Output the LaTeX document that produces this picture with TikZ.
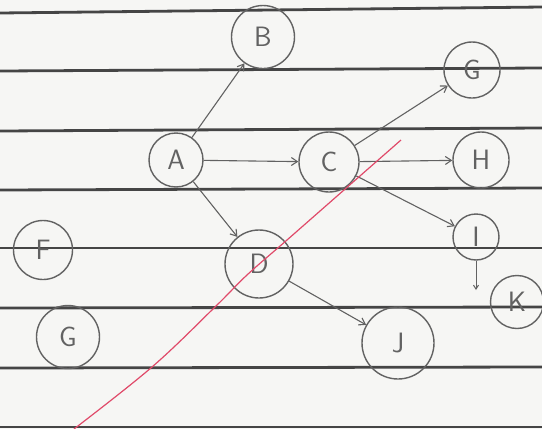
\documentclass[tikz,border=0pt]{standalone}
\usetikzlibrary{arrows.meta}
\definecolor{paper}{HTML}{F6F6F4}
\definecolor{ruled}{HTML}{454545}
\definecolor{ink}{HTML}{626262}
\definecolor{redpen}{HTML}{E04A6A}
\tikzset{
  vtx/.style={circle, draw=ink, line width=1.4pt, inner sep=0pt, text=ink,
    font=\sffamily\fontsize{28}{28}\selectfont},
  edge/.style={draw=ink, line width=1.1pt, -{Straight Barb[length=6pt,width=8pt]}},
  rule/.style={draw=ruled, line width=2.8pt}
}
\begin{document}
\begin{tikzpicture}[x=1pt,y=-1pt]
\fill[paper] (0,0) rectangle (542,429);
\useasboundingbox (0,0) rectangle (542,429);
% ruled lines
\draw[rule] (0,13) -- (542,7);
\draw[rule] (0,71) -- (542,68);
\draw[rule] (0,131) -- (542,128);
\draw[rule] (0,190) -- (542,188);
\draw[rule] (0,248) -- (542,248);
\draw[rule] (0,308) -- (542,307);
\draw[rule] (0,368) -- (542,367);
\draw[rule] (0,427) -- (542,427);
% nodes
\node[vtx, minimum size=63pt] (B) at (263,37) {B};
\node[vtx, minimum size=56pt] (G1) at (472,70) {G};
\node[vtx, minimum size=54pt] (A) at (176,160) {A};
\node[vtx, minimum size=60pt] (C) at (329,162) {C};
\node[vtx, minimum size=56pt] (H) at (481,160) {H};
\node[vtx, minimum size=46pt] (I) at (476,237) {I};
\node[vtx, minimum size=68pt] (D) at (259,264) {D};
\node[vtx, minimum size=59pt] (F) at (43,250) {F};
\node[vtx, minimum size=63pt] (G2) at (68,337) {G};
\node[vtx, minimum size=72pt] (J) at (398,343) {J};
\node[vtx, minimum size=53pt] (K) at (517,302) {K};
\coordinate (Kin) at (476,290);
% edges
\draw[edge] (A) -- (B);
\draw[edge] (A) -- (C);
\draw[edge] (A) -- (D);
\draw[edge] (C) -- (G1);
\draw[edge] (C) -- (H);
\draw[edge] (C) -- (I);
\draw[edge] (D) -- (J);
\draw[draw=ink, line width=1pt, -{Straight Barb[length=4pt,width=5pt]}] (I.south) -- (Kin);
% red pen stroke
\draw[redpen, line width=1.2pt] plot[smooth, tension=0.6] coordinates
  {(74,429) (152,367) (215,307) (247,275) (287,240) (336,197) (401,140)};
\end{tikzpicture}
\end{document}
